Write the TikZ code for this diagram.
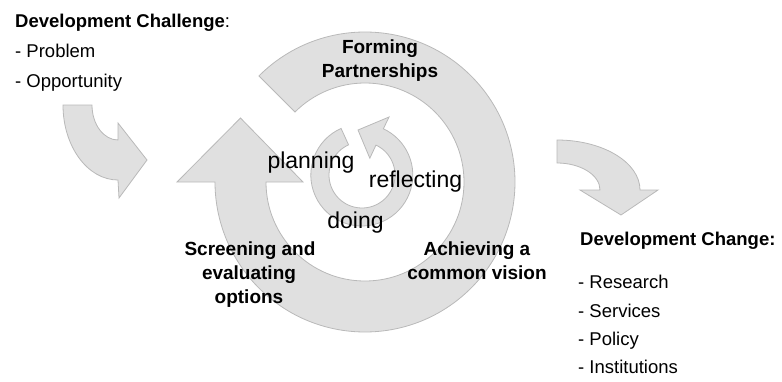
\documentclass[tikz,border=0pt]{standalone}
\usepackage{fontspec}
\setmainfont{Liberation Sans}
\definecolor{arrowfill}{RGB}{224,224,224}
\definecolor{arrowline}{RGB}{185,185,185}
\begin{document}
\begin{tikzpicture}[x=1pt,y=-1pt,
  shapebox/.style={fill=arrowfill,draw=arrowline,line width=0.8pt,line join=miter},
  ringlabel/.style={font=\fontsize{19}{24}\selectfont\bfseries,anchor=base,inner sep=0pt},
  innerlabel/.style={font=\fontsize{23}{26}\selectfont,anchor=base,inner sep=0pt},
  sidehead/.style={font=\fontsize{18.5}{22}\selectfont,anchor=base west,inner sep=0pt},
  sideitem/.style={font=\fontsize{18.5}{22}\selectfont,anchor=base west,inner sep=0pt}]
\useasboundingbox (0,0) rectangle (782,381);

% big clockwise ring, centre (365,182)
\draw[shapebox] (258.93,75.93) arc[start angle=-135,end angle=180,radius=150]
  -- (177,182) -- (240.5,118) -- (303,182) -- (266,182)
  arc[start angle=180,end angle=-135,radius=99] -- cycle;

% small counter-clockwise ring, centre (362,175)
\draw[shapebox] (341.07,128.41) arc[start angle=-114,end angle=-425,radius=51]
  -- (389.05,116.99) -- (358,130) -- (369.82,158.23) -- (375.95,145.09)
  arc[start angle=-425,end angle=-114,radius=33] -- cycle;

% left curved arrow
\draw[shapebox] (63,105) arc[start angle=180,end angle=90,x radius=55,y radius=75]
  -- (119,198) -- (147,160) -- (118,123) -- (118,140)
  arc[start angle=90,end angle=180,x radius=26,y radius=35] -- cycle;

% right curved arrow
\draw[shapebox] (557,140) arc[start angle=-90,end angle=0,x radius=83,y radius=50]
  -- (658,190) -- (621,215) -- (580,190) -- (600,190)
  arc[start angle=0,end angle=-90,x radius=43,y radius=27] -- cycle;

% ring labels
\node[ringlabel] (fp1) at (380,53) {Forming};
\node[ringlabel] (fp2) at (380,77) {Partnerships};
\node[ringlabel] (se1) at (250,255) {Screening and};
\node[ringlabel] (se2) at (249,279) {evaluating};
\node[ringlabel] (se3) at (249,303) {options};
\node[ringlabel] (ac1) at (477,255) {Achieving a};
\node[ringlabel] (ac2) at (477,279) {common vision};

% inner labels
\node[innerlabel] (pl) at (311,168) {planning};
\node[innerlabel] (rf) at (415.5,187) {reflecting};
\node[innerlabel] (dg) at (355.5,228) {doing};

% side texts
\node[sidehead] (dch) at (15,27) {\textbf{Development Challenge}:};
\node[sideitem] (dc1) at (15,57) {- Problem};
\node[sideitem] (dc2) at (15,87) {- Opportunity};
\node[sidehead] (dgh) at (580,245) {\textbf{Development Change:}};
\node[sideitem] (dg1) at (578,288) {- Research};
\node[sideitem] (dg2) at (578,317) {- Services};
\node[sideitem] (dg3) at (578,345) {- Policy};
\node[sideitem] (dg4) at (578,373) {- Institutions};
\end{tikzpicture}
\end{document}
